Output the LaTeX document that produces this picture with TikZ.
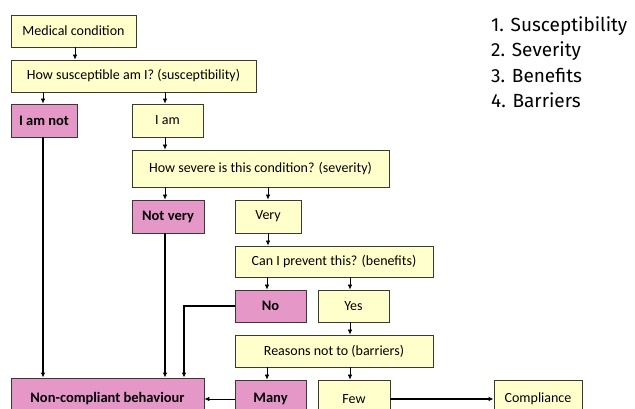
\documentclass[tikz,border=0pt]{standalone}
\usepackage{fontspec}
\setmainfont{Carlito}
\newfontfamily\legendfont{Fira Sans}
\usetikzlibrary{arrows.meta}
\definecolor{boxyellow}{HTML}{FFFFCC}
\definecolor{boxpink}{HTML}{E597C8}
\definecolor{boxline}{HTML}{3A3A30}
\tikzset{
  ybox/.style={draw=boxline, line width=0.8pt, fill=boxyellow, inner sep=0pt, font=\fontsize{14}{16}\selectfont},
  pbox/.style={draw=boxline, line width=0.8pt, fill=boxpink, inner sep=0pt, font=\fontsize{14.5}{16}\selectfont\bfseries},
  arr/.style={-{Latex[length=5pt,width=4.5pt]}, line width=0.7pt},
  thick arr/.style={-{Latex[length=5pt,width=4.5pt]}, line width=2pt},
}
\begin{document}
\begin{tikzpicture}[x=1pt,y=-1pt]
\useasboundingbox (0,0) rectangle (635,409);
\begin{scope}
\clip (0,0) rectangle (635,409);
\node[ybox, minimum width=125, minimum height=32] (med) at (73.5,31) {Medical condition};
\node[ybox, minimum width=245, minimum height=32] (susc) at (133.5,76) {How susceptible am I? (susceptibility)};
\node[pbox, minimum width=66, minimum height=33] (notsus) at (44,120.5) {I am not};
\node[ybox, minimum width=71, minimum height=33] (iam) at (167.5,120.5) {I am};
\node[ybox, minimum width=257, minimum height=37] (sev) at (260.5,168.5) {How severe is this condition? (severity)};
\node[pbox, minimum width=72, minimum height=33] (notvery) at (168,216.5) {Not very};
\node[ybox, minimum width=66, minimum height=33] (very) at (268,216.5) {Very};
\node[ybox, minimum width=198, minimum height=31] (prev) at (334,261.5) {Can I prevent this? (benefits)};
\node[pbox, minimum width=71, minimum height=32] (no) at (270.5,306) {No};
\node[ybox, minimum width=71, minimum height=32] (yes) at (353.5,306) {Yes};
\node[ybox, minimum width=198, minimum height=32] (reas) at (334,351) {Reasons not to (barriers)};
\node[pbox, minimum width=71, minimum height=38] (many) at (270.5,399) {Many};
\node[ybox, minimum width=72, minimum height=38] (few) at (354,399) {Few};
\node[pbox, minimum width=193, minimum height=42] (nonc) at (107.5,399) {Non-compliant behaviour};
\node[ybox, minimum width=88, minimum height=38] (comp) at (538,399) {Compliance};
\end{scope}
% connectors
\coordinate (a1) at (165,0);
\coordinate (a2) at (268,0);
\coordinate (a3) at (267,0);
\coordinate (a4) at (350,0);
\coordinate (b1) at (43,0);
\coordinate (b3) at (184,0);
\coordinate (a0) at (75,0);
\draw[arr] (med.south -| a0) -- (susc.north -| a0);
\draw[arr] (susc.south -| b1) -- (notsus.north -| b1);
\draw[arr] (susc.south -| a1) -- (iam.north -| a1);
\draw[arr] (iam.south -| a1) -- (sev.north -| a1);
\draw[arr] (sev.south -| a1) -- (notvery.north -| a1);
\draw[arr] (sev.south -| a2) -- (very.north -| a2);
\draw[arr] (very.south -| a2) -- (prev.north -| a2);
\draw[arr] (prev.south -| a3) -- (no.north -| a3);
\draw[arr] (prev.south -| a4) -- (yes.north -| a4);
\draw[arr] (yes.south -| a4) -- (reas.north -| a4);
\draw[arr] (reas.south -| a3) -- (many.north -| a3);
\draw[arr] (reas.south -| a4) -- (few.north -| a4);
% thick lines to non-compliant
\draw[thick arr] (notsus.south -| b1) -- (nonc.north -| b1);
\draw[thick arr] (notvery.south -| a1) -- (nonc.north -| a1);
\draw[thick arr] (no.west) -| (nonc.north -| b3);
\draw[arr] (many.west) -- (many.west -| nonc.east);
\draw[thick arr] (few.east) -- (few.east -| comp.west);
% legend
\node[font=\legendfont\fontsize{19}{25.5}\selectfont, anchor=north west, align=left, inner sep=0pt] (legend) at (491,16) {1. Susceptibility\\2. Severity\\3. Benefits\\4. Barriers};
\end{tikzpicture}
\end{document}
